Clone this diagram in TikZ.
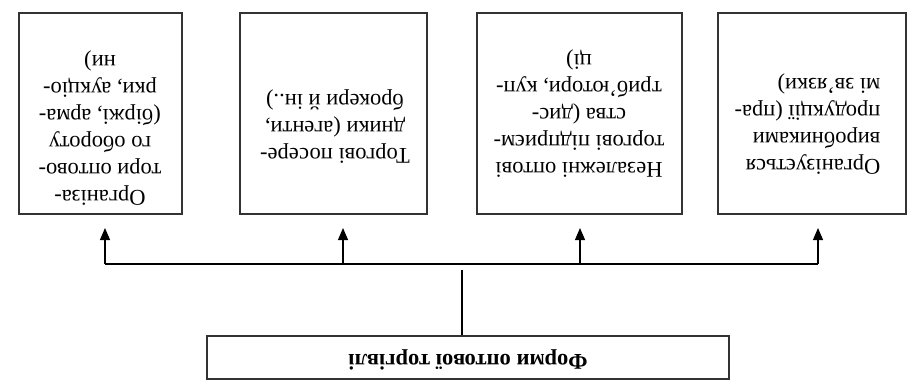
\documentclass[tikz,border=0pt]{standalone}
\usepackage{fontspec}
\setmainfont{Liberation Serif}
\usetikzlibrary{arrows.meta}
\tikzset{
  box/.style={draw=black!80, line width=1.3pt, rectangle, inner sep=0pt},
  txt/.style={rotate=180, align=center, inner sep=0pt, font=\fontsize{22.5}{27}\selectfont},
  conn/.style={draw=black, line width=1.1pt},
  arr/.style={conn, -{Triangle[length=12pt,width=10pt]}}
}
\begin{document}
\begin{tikzpicture}[x=1pt,y=-1pt]
\useasboundingbox (0,0) rectangle (922,380);
% top boxes
\node[box, minimum width=163pt, minimum height=201pt] (b1) at (100.5,113.5) {};
\node[box, minimum width=187pt, minimum height=201pt] (b2) at (333.5,113.5) {};
\node[box, minimum width=205pt, minimum height=201pt] (b3) at (579.5,113.5) {};
\node[box, minimum width=188pt, minimum height=201pt] (b4) at (812,113.5) {};
% texts
\node[txt] (t1) at (100,128) {Організа-\\тори оптово-\\го обороту\\(біржі, арма-\\рки, аукціо-\\ни)};
\node[txt] (t2) at (335,126.5) {Торгові посере-\\дники (агенти,\\брокери й ін..)};
\node[txt] (t3) at (579,114) {Незалежні оптові\\торгові підприєм-\\ства (дис-\\триб’ютори, куп-\\ці)};
\node[txt, align=left] (t4) at (807.5,124) {Організується\\виробниками\\продукції (пра-\\мі зв’язки)};
% bottom box
\node[box, minimum width=522pt, minimum height=43pt] (root) at (468,357.5) {};
\node[txt, font=\fontsize{22.5}{27}\selectfont\bfseries] (rt) at (468,360) {Форми оптової торгівлі};
% connectors
\coordinate (h1) at (105,264);
\coordinate (h2) at (343,264);
\coordinate (h3) at (580,264);
\coordinate (h4) at (818,264);
\coordinate (a1) at (105,228);
\coordinate (a2) at (343,228);
\coordinate (a3) at (580,228);
\coordinate (a4) at (818,228);
\coordinate (v) at (462,270);
\draw[conn] (h1) -- (h4);
\draw[arr] (h1) -- (a1);
\draw[arr] (h2) -- (a2);
\draw[arr] (h3) -- (a3);
\draw[arr] (h4) -- (a4);
\draw[conn] (root.north -| v) -- (v);
\end{tikzpicture}
\end{document}
